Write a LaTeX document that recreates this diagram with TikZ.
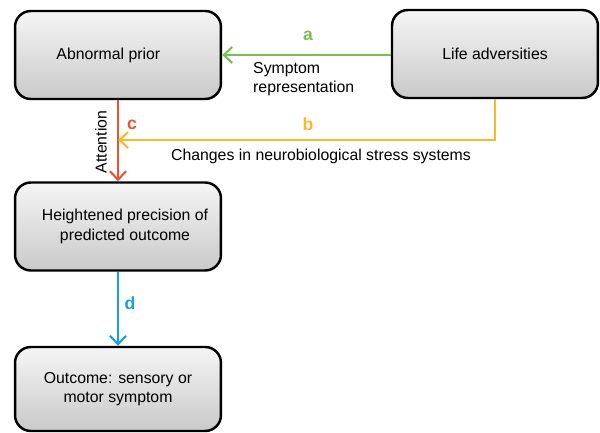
\documentclass[tikz,border=0pt]{standalone}
\usepackage{fontspec}
\setmainfont{Liberation Sans}
\usetikzlibrary{arrows.meta,positioning}

\definecolor{greenA}{RGB}{118,192,80}
\definecolor{orangeB}{RGB}{250,184,44}
\definecolor{redC}{RGB}{234,82,48}
\definecolor{blueD}{RGB}{24,160,218}

\begin{document}
\begin{tikzpicture}[x=0.02cm, y=-0.02cm,
    %Option for nice arrows
    >={Straight Barb[length=1.7mm,width=3.2mm,line width=1.2pt]}, %
    font=\fontsize{9}{11}\selectfont,
    box/.style={draw=black, line width=1.4pt, rounded corners=9pt,
        top color=gray!8, bottom color=gray!42,
        minimum width=4.12cm, minimum height=1.76cm, align=center},
    link/.style={line width=1.3pt, color=#1, ->},
    letter/.style={font=\fontsize{10}{12}\selectfont\bfseries, text=#1},
]
    \useasboundingbox (0,0) rectangle (600,433);

    % Boxes
    \node[box] (prior) at (118,55) {Abnormal prior\hspace*{11pt}};
    \node[box] (life) at (495,54) {Life adversities};
    \node[box] (precision) at (118,226.5) {\hspace{8pt}Heightened precision of\\ \hspace{8pt}predicted outcome};
    \node[box, minimum height=1.68cm] (outcome) at (118,389) {Outcome: sensory or\\motor symptom};

    % a: symptom representation
    \draw[link=greenA] (life.west |- 0,55) -- (prior.east |- 0,55);
    \node[letter=greenA] (la) at (308,36) {a};
    \node[anchor=west, align=left] (sympt) at (247,79) {Symptom\\representation};

    % c: attention
    \draw[link=redC] (prior.south) -- (precision.north);
    \node[letter=redC] (lc) at (132,125) {c};
    \node[rotate=90] (att) at (101,142) {Attention};

    % b: neurobiological stress systems
    \coordinate (bend) at (life.south |- 0,140);
    \coordinate (hit) at (prior.south |- 0,140);
    \draw[link=orangeB] (life.south) -- (bend) -- (hit);
    \node[letter=orangeB] (lb) at (308,124) {b};
    \node (stress) at (321,156) {Changes in neurobiological stress systems};

    % d: outcome
    \draw[link=blueD] (precision.south) -- (outcome.north);
    \node[letter=blueD] (ld) at (130,303) {d};
\end{tikzpicture}
\end{document}
